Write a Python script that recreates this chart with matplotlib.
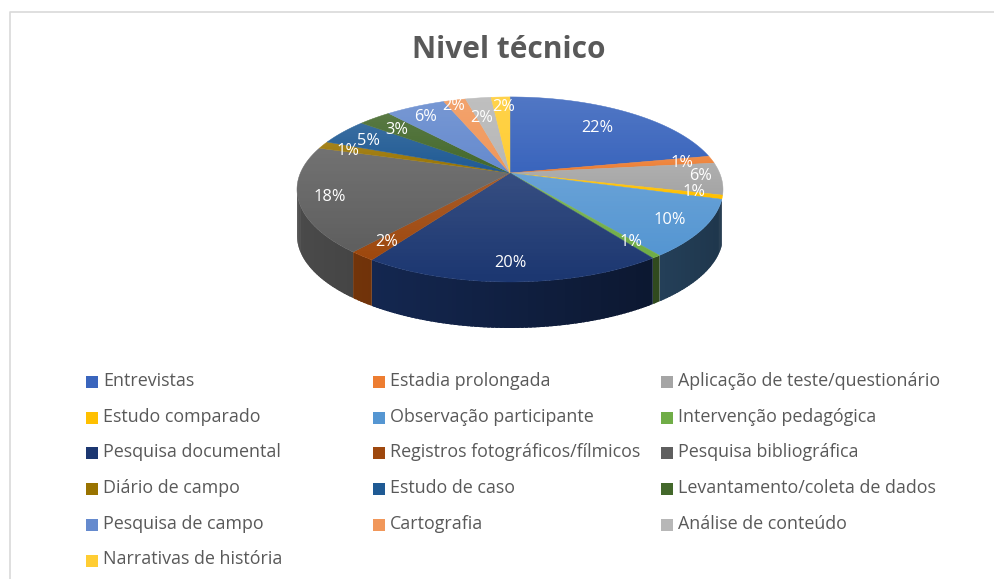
import matplotlib
matplotlib.use('Agg')
import matplotlib.pyplot as plt
from matplotlib.patches import Polygon, Rectangle
from matplotlib.colors import to_rgb
import numpy as np

title = 'Nivel técnico'
categories = ['Entrevistas', 'Estadia prolongada', 'Aplicação de teste/questionário',
              'Estudo comparado', 'Observação participante', 'Intervenção pedagógica',
              'Pesquisa documental', 'Registros fotográficos/fílmicos', 'Pesquisa bibliográfica',
              'Diário de campo', 'Estudo de caso', 'Levantamento/coleta de dados',
              'Pesquisa de campo', 'Cartografia', 'Análise de conteúdo',
              'Narrativas de história']
values = [21.9, 1.3, 5.6, 0.7, 10.0, 0.6, 19.4, 1.7, 18.5, 1.3, 4.6, 3.0, 5.4, 2.0, 2.3, 1.7]
labels = ['22%', '1%', '6%', '1%', '10%', '1%', '20%', '2%', '18%', '1%', '5%', '3%', '6%', '2%', '2%', '2%']
colors = ['#3a65bd', '#ed7d31', '#a5a5a5', '#ffc000', '#5596d2', '#70ad47',
          '#1c3771', '#9e480e', '#5f5f5f', '#997300', '#1f5a94', '#43682b',
          '#658ace', '#f1975a', '#b7b7b7', '#ffcd33']
label_xy = [(597, 127), (682, 162), (701, 175), (694, 191), (670, 219), (631, 241),
            (510, 262), (387, 241), (330, 196), (348, 150), (368, 140), (397, 129),
            (426, 116), (454, 105), (482, 117), (504, 106)]

# pie geometry in pixels, tilted disc with a bit of perspective
cx, cy = 510, 173
R, A, k = 209.6, 89.6, 0.178
depth = 46


def project(t):
    u, v = np.sin(t), np.cos(t)
    return cx + R * u / (1 + k * v), cy - A * v / (1 + k * v)


def shade(c, f):
    return np.array(to_rgb(c)) * f


fig = plt.figure(figsize=(9.94, 5.79), dpi=100)
ax = fig.add_axes([0, 0, 1, 1])
ax.axis('off')

ax.plot([9.5, 9.5, 994], [579, 12, 12], color='#d9d9d9', lw=1.2)
ax.text(509, 49.5, title, ha='center', va='center', fontsize=21.5, fontweight='bold',
        family='Open Sans', color='#595959')

edges = np.cumsum([0] + values) / sum(values) * 2 * np.pi

# side wall: rim shows from the end of the yellow slice round to the left extreme
wall_start = edges[4]
wall_end = 2 * np.pi - np.arctan2(1, -k)
for i in range(len(values)):
    lo, hi = max(edges[i], wall_start), min(edges[i + 1], wall_end)
    if hi <= lo:
        continue
    n = max(int((hi - lo) * 60), 2)
    steps = np.linspace(lo, hi, n + 1)
    for s0, s1 in zip(steps[:-1], steps[1:]):
        ts = np.linspace(s0, min(s1 + 0.012, hi), 3)
        x, y = project(ts)
        # darker to the right
        f = 0.78 - 0.42 * (np.mean(x) - 297) / 426
        pts = np.r_[np.c_[x, y], np.c_[x[::-1], y[::-1] + depth]]
        ax.add_patch(Polygon(pts, closed=True, fc=shade(colors[i], f), ec='none'))

# top face, each slice with its own vertical gradient
for i in range(len(values)):
    ts = np.linspace(edges[i], edges[i + 1], 80)
    x, y = project(ts)
    pts = np.r_[[[cx, cy]], np.c_[x, y]]
    poly = Polygon(pts, closed=True, fc=colors[i], ec=colors[i], lw=0.3)
    ax.add_patch(poly)
    top, bot = pts[:, 1].min(), pts[:, 1].max()
    rgba = np.ones((64, 1, 4))
    rgba[..., 3] = np.linspace(1, 0, 64).reshape(-1, 1) * 0.12
    im = ax.imshow(rgba, extent=(pts[:, 0].min(), pts[:, 0].max(), bot, top), aspect='auto', zorder=2)
    im.set_clip_path(poly)

ax.set_xlim(0, 994)
ax.set_ylim(579, 0)

for lab, (lx, ly) in zip(labels, label_xy):
    ax.text(lx, ly + 1, lab, ha='center', va='center', fontsize=11.8, color='white',
            family='Open Sans', zorder=4)

# legend, three columns
col_x = [86, 373, 661]
for i, name in enumerate(categories):
    col, row = i % 3, i // 3
    ly = 382 + row * 35.7
    ax.add_patch(Rectangle((col_x[col], ly - 6), 12, 12, fc=colors[i], ec='none', zorder=3))
    ax.text(col_x[col] + 17, ly - 1, name, ha='left', va='center', fontsize=12.9,
            family='Open Sans', color='#595959')

fig.savefig('out.png', dpi=100)
